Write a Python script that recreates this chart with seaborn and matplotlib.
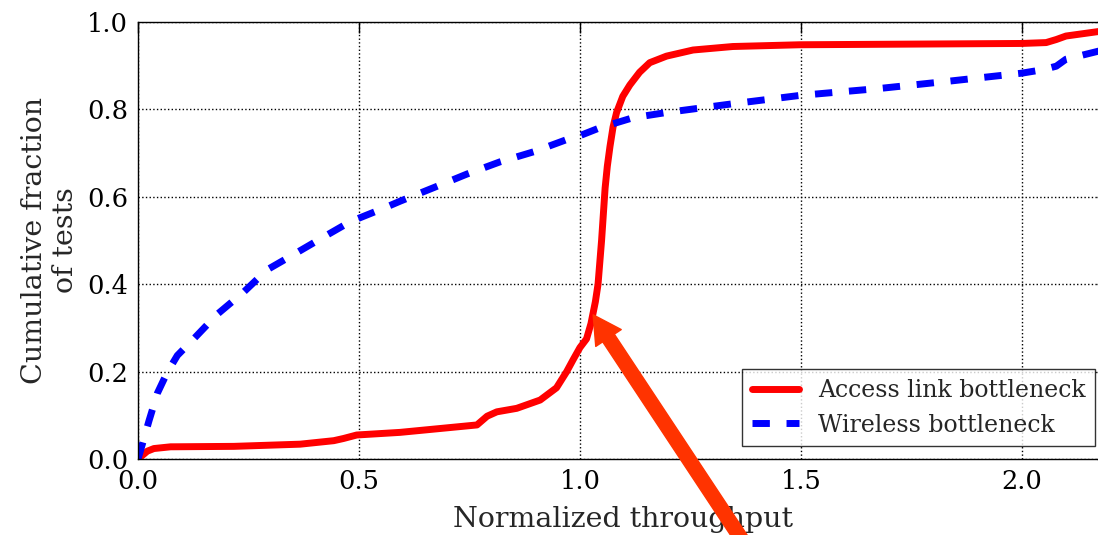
# CDF of normalized throughput: access link vs wireless bottleneck
import matplotlib
matplotlib.use("Agg")
import matplotlib.pyplot as plt
import seaborn as sns

# Access link bottleneck (red, solid)
access_x = [0.0, 0.021, 0.036, 0.074, 0.081, 0.217, 0.367, 0.443, 0.465, 0.495,
            0.593, 0.767, 0.790, 0.812, 0.857, 0.910, 0.947, 0.970, 0.985, 1.0,
            1.015, 1.025, 1.035, 1.041, 1.045, 1.049, 1.053, 1.057, 1.062, 1.068,
            1.075, 1.083, 1.097, 1.113, 1.135, 1.158, 1.196, 1.256, 1.346, 1.497,
            2.0, 2.055, 2.078, 2.100, 2.20]
access_y = [0.0, 0.018, 0.024, 0.028, 0.028, 0.029, 0.034, 0.042, 0.047, 0.055,
            0.061, 0.078, 0.098, 0.108, 0.116, 0.135, 0.163, 0.200, 0.228, 0.255,
            0.275, 0.310, 0.360, 0.400, 0.450, 0.500, 0.560, 0.620, 0.670, 0.715,
            0.760, 0.793, 0.830, 0.856, 0.885, 0.907, 0.922, 0.936, 0.944, 0.948,
            0.951, 0.953, 0.960, 0.968, 0.982]

# Wireless bottleneck (blue, dashed)
wireless_x = [0.0, 0.0098, 0.025, 0.044, 0.066, 0.089, 0.127, 0.179, 0.239, 0.292,
              0.352, 0.413, 0.480, 0.556, 0.593, 0.669, 0.744, 0.819, 0.895, 0.970,
              1.0, 1.045, 1.120, 1.196, 1.346, 1.497, 1.678, 1.829, 2.0, 2.048,
              2.078, 2.100, 2.20]
wireless_y = [0.0, 0.034, 0.088, 0.151, 0.198, 0.237, 0.276, 0.331, 0.382, 0.433,
              0.468, 0.504, 0.543, 0.574, 0.590, 0.621, 0.652, 0.680, 0.703, 0.731,
              0.740, 0.758, 0.781, 0.793, 0.813, 0.832, 0.848, 0.864, 0.883, 0.891,
              0.899, 0.915, 0.940]

sns.set_style("white")
plt.rcParams["font.family"] = ["DejaVu Serif"]

fig = plt.figure(figsize=(10.98, 5.35), dpi=100)
ax = fig.add_axes([0.1257, 0.142, 0.8834, 0.8168])

sns.lineplot(x=access_x, y=access_y, ax=ax, color="#ff0000", linewidth=5,
             sort=False, estimator=None, label="Access link bottleneck")
sns.lineplot(x=wireless_x, y=wireless_y, ax=ax, color="#0000ff", linewidth=5,
             sort=False, estimator=None, linestyle=(0, (2.5, 2.4)),
             label="Wireless bottleneck")

ax.set_xlim(0, 2.195)
ax.set_ylim(0, 1.0)
ax.set_xticks([0.0, 0.5, 1.0, 1.5, 2.0])
ax.set_yticks([0.0, 0.2, 0.4, 0.6, 0.8, 1.0])
ax.set_xticklabels(["0.0", "0.5", "1.0", "1.5", "2.0"])
ax.set_yticklabels(["0.0", "0.2", "0.4", "0.6", "0.8", "1.0"])
ax.tick_params(direction="in", length=8, width=1, labelsize=18.5, pad=7,
               top=True, right=True, colors="black")
ax.grid(True, linestyle=":", color="black", linewidth=1)
for s in ax.spines.values():
    s.set_color("black")
    s.set_linewidth(1)

ax.set_xlabel("Normalized throughput", fontsize=20.5, labelpad=9)
ax.set_ylabel("Cumulative fraction\nof tests", fontsize=20.5, labelpad=6)

leg = ax.legend(loc="lower right", fontsize=17, frameon=True, fancybox=False,
                handlelength=2.0, borderaxespad=0.55)
leg.get_frame().set_edgecolor("black")
leg.get_frame().set_linewidth(1)

# big annotation arrow
ax.annotate("", xy=(1.03, 0.33), xytext=(1.37, -0.19),
            arrowprops=dict(arrowstyle="simple,head_length=1.0,head_width=1.1,tail_width=0.5",
                            color="#ff3300", mutation_scale=20, shrinkA=0, shrinkB=0),
            annotation_clip=False)

fig.savefig("out.png", dpi=100)
